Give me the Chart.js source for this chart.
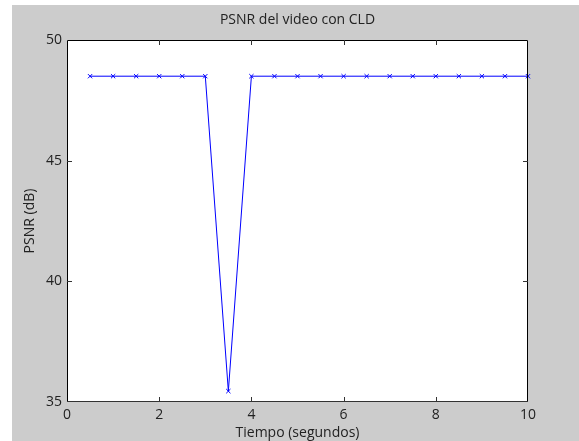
<!DOCTYPE html>
<html>
<head>
<meta charset="utf-8">
<script src="https://cdn.jsdelivr.net/npm/chart.js@4/dist/chart.umd.min.js"></script>
<style>
  html, body { margin: 0; padding: 0; background: #fff; }
  #wrap { width: 579px; height: 441px; }
</style>
</head>
<body>
<div id="wrap"><canvas id="psnr-chart" width="579" height="441"></canvas></div>
<script>
// seconds and PSNR (dB) per sample
const tiempo = [0.5, 1, 1.5, 2, 2.5, 3, 3.5, 4, 4.5, 5, 5.5, 6, 6.5, 7, 7.5, 8, 8.5, 9, 9.5, 10];
const psnr = [48.5, 48.5, 48.5, 48.5, 48.5, 48.5, 35.45, 48.5, 48.5, 48.5,
              48.5, 48.5, 48.5, 48.5, 48.5, 48.5, 48.5, 48.5, 48.5, 48.5];
const xTicks = [0, 2, 4, 6, 8, 10];
const yTicks = [35, 40, 45, 50];

const FONT = "'Open Sans', 'DejaVu Sans', sans-serif";
const TEXT = "#222";

// grey figure backdrop and white axes box, like a matlab figure
const figureBg = {
  id: "figureBg",
  beforeDraw(chart) {
    const { ctx, chartArea: a } = chart;
    ctx.save();
    ctx.fillStyle = "#fff";
    ctx.fillRect(0, 0, chart.width, chart.height);
    ctx.fillStyle = "#cccccc";
    ctx.fillRect(12, 5, chart.width - 12, chart.height - 5);
    ctx.fillStyle = "#fff";
    ctx.fillRect(a.left, a.top, a.right - a.left, a.bottom - a.top);
    ctx.restore();
  },
  // box outline plus inward ticks on every side
  afterDraw(chart) {
    const { ctx, chartArea: a, scales } = chart;
    const len = 5;
    ctx.save();
    ctx.lineWidth = 1;
    ctx.strokeStyle = "#000";
    ctx.beginPath();
    ctx.moveTo(a.left + 0.5, a.bottom);
    ctx.lineTo(a.left + 0.5, a.top + 0.5);
    ctx.lineTo(a.right - 0.5, a.top + 0.5);
    ctx.lineTo(a.right - 0.5, a.bottom);
    ctx.stroke();
    ctx.strokeStyle = "#333";
    ctx.beginPath();
    ctx.moveTo(a.left, a.bottom - 0.5);
    ctx.lineTo(a.right, a.bottom - 0.5);
    ctx.stroke();
    ctx.beginPath();
    xTicks.forEach(v => {
      const x = Math.round(scales.x.getPixelForValue(v)) + 0.5;
      if (v === xTicks[0] || v === xTicks[xTicks.length - 1]) return;
      ctx.moveTo(x, a.bottom);
      ctx.lineTo(x, a.bottom - len);
      ctx.moveTo(x, a.top);
      ctx.lineTo(x, a.top + len);
    });
    yTicks.forEach(v => {
      const y = Math.round(scales.y.getPixelForValue(v)) + 0.5;
      if (v === yTicks[0] || v === yTicks[yTicks.length - 1]) return;
      ctx.moveTo(a.left, y);
      ctx.lineTo(a.left + len, y);
      ctx.moveTo(a.right, y);
      ctx.lineTo(a.right - len, y);
    });
    ctx.stroke();
    ctx.restore();
  }
};

new Chart(document.getElementById("psnr-chart"), {
  type: "line",
  data: {
    datasets: [{
      data: tiempo.map((t, i) => ({ x: t, y: psnr[i] })),
      borderColor: "#0000ff",
      backgroundColor: "#0000ff",
      borderWidth: 1,
      pointStyle: "crossRot",
      pointRadius: 3,
      pointBorderWidth: 1,
      pointBorderColor: "#0000ff",
      tension: 0,
      clip: false
    }]
  },
  options: {
    responsive: false,
    animation: false,
    events: [],
    layout: { padding: { left: 0, right: 51, top: 0, bottom: 0 } },
    plugins: {
      legend: { display: false },
      tooltip: { enabled: false },
      title: {
        display: true,
        fullSize: false,
        text: "PSNR del video con CLD",
        color: TEXT,
        font: { family: FONT, size: 14, weight: "normal", lineHeight: 1.2 },
        padding: { top: 12, bottom: 11.2 }
      }
    },
    scales: {
      x: {
        type: "linear",
        min: 0,
        max: 10,
        afterFit: s => { s.height = 39; },
        afterBuildTicks: s => { s.ticks = xTicks.map(v => ({ value: v })); },
        grid: { display: false, drawTicks: false },
        border: { display: false },
        ticks: { color: TEXT, padding: 5, font: { family: FONT, size: 14 }, maxRotation: 0 },
        title: {
          display: true,
          text: "Tiempo (segundos)",
          color: TEXT,
          font: { family: FONT, size: 14, lineHeight: 1.2 },
          padding: { top: 0, bottom: 0 }
        }
      },
      y: {
        type: "linear",
        min: 35,
        max: 50,
        afterFit: s => { s.width = 67; },
        afterBuildTicks: s => { s.ticks = yTicks.map(v => ({ value: v })); },
        grid: { display: false, drawTicks: false },
        border: { display: false },
        ticks: { color: TEXT, padding: 5, font: { family: FONT, size: 14 } },
        title: {
          display: true,
          text: "PSNR (dB)",
          color: TEXT,
          font: { family: FONT, size: 14, lineHeight: 1.2 },
          padding: { top: 22, bottom: 0 }
        }
      }
    }
  },
  plugins: [figureBg]
});
</script>
</body>
</html>
